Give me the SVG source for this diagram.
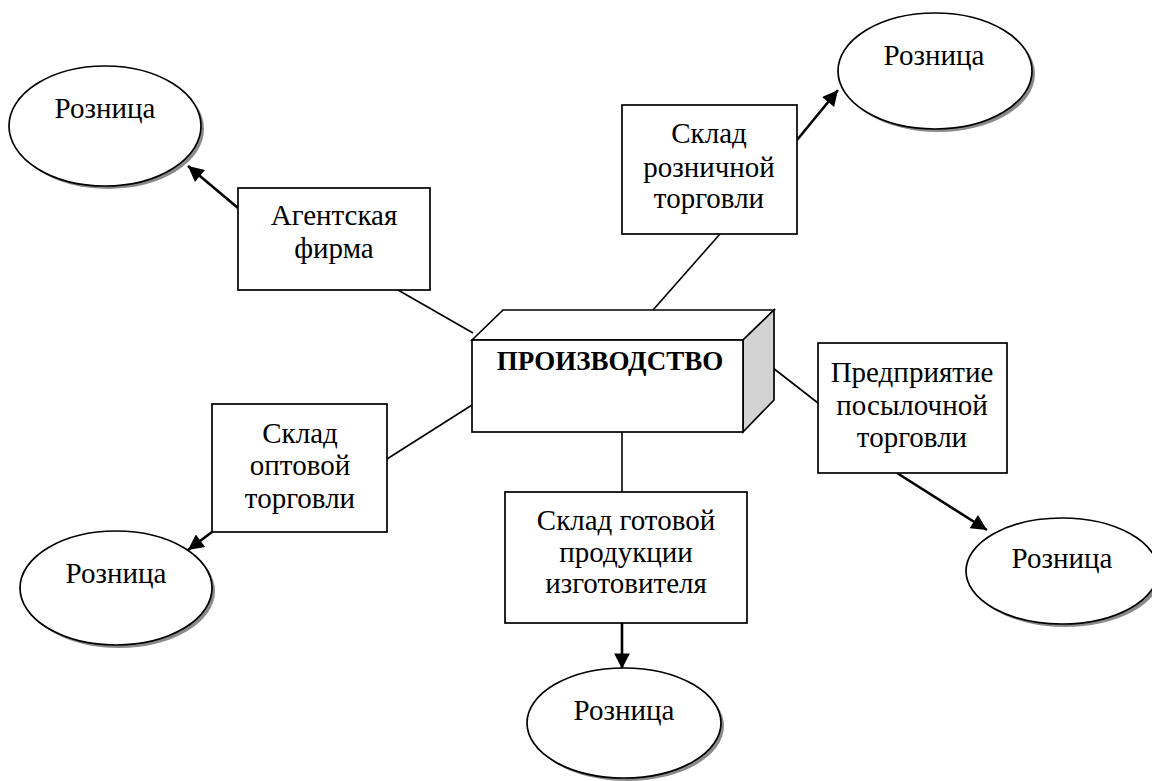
<svg xmlns="http://www.w3.org/2000/svg" width="1152" height="781" viewBox="0 0 1152 781">
<defs>
<marker id="ah" viewBox="0 0 10 10" refX="10" refY="5" markerWidth="7" markerHeight="6" markerUnits="strokeWidth" orient="auto">
<path d="M0,0 L10,5 L0,10 z" fill="#000"/>
</marker>
<style>
.t{font-family:"Liberation Serif","Times New Roman",serif;font-size:29px;fill:#000;text-anchor:middle}
.b{font-weight:bold;font-size:27px}
.box{fill:#fff;stroke:#000;stroke-width:1.7}
.sh{fill:#8a8a8a;stroke:none}
.el{fill:#fff;stroke:#000;stroke-width:1.7}
.ln{stroke:#000;stroke-width:1.6;fill:none}
.ar{stroke:#000;stroke-width:2.6;fill:none;marker-end:url(#ah)}
</style>
</defs>
<rect width="1152" height="781" fill="#fff"/>
<g id="connectors">
<line class="ln" x1="398" y1="290" x2="473" y2="333"/>
<line class="ln" x1="720" y1="234" x2="653" y2="310"/>
<line class="ln" x1="773" y1="368" x2="818" y2="403"/>
<line class="ln" x1="387" y1="459" x2="472" y2="405"/>
<line class="ln" x1="622" y1="432" x2="622" y2="492"/>
<line class="ar" x1="238" y1="208" x2="188" y2="166"/>
<line class="ar" x1="797" y1="140" x2="838" y2="90"/>
<line class="ar" x1="897" y1="473" x2="987" y2="530"/>
<line class="ar" x1="212" y1="532" x2="188" y2="550"/>
<line class="ar" x1="622" y1="623" x2="622" y2="669"/>
</g>
<g id="production">
<polygon class="box" points="472,340 503,310 774,310 743,340"/>
<polygon points="743,340 774,310 774,400 743,432" fill="#d3d3d3" stroke="#000" stroke-width="1.7"/>
<rect class="box" x="472" y="340" width="271" height="92"/>
<text class="t b" x="610" y="370">ПРОИЗВОДСТВО</text>
</g>
<g id="agent">
<rect class="box" x="238" y="188" width="192" height="102"/>
<text class="t" x="334" y="225">Агентская</text>
<text class="t" x="334" y="258">фирма</text>
</g>
<g id="retail-warehouse">
<rect class="box" x="622" y="105" width="175" height="129"/>
<text class="t" x="709" y="143">Склад</text>
<text class="t" x="709" y="177">розничной</text>
<text class="t" x="709" y="208">торговли</text>
</g>
<g id="mail-order">
<rect class="box" x="818" y="343" width="189" height="130"/>
<text class="t" x="912" y="382">Предприятие</text>
<text class="t" x="912" y="415">посылочной</text>
<text class="t" x="912" y="447">торговли</text>
</g>
<g id="wholesale-warehouse">
<rect class="box" x="212" y="404" width="175" height="128"/>
<text class="t" x="300" y="443">Склад</text>
<text class="t" x="300" y="475">оптовой</text>
<text class="t" x="300" y="508">торговли</text>
</g>
<g id="finished-goods">
<rect class="box" x="505" y="492" width="242" height="131"/>
<text class="t" x="626" y="530">Склад готовой</text>
<text class="t" x="626" y="562">продукции</text>
<text class="t" x="626" y="593">изготовителя</text>
</g>
<g id="retail-1">
<ellipse class="sh" cx="108" cy="129" rx="96" ry="60"/>
<ellipse class="el" cx="105" cy="126" rx="96" ry="60"/>
<text class="t" x="105" y="118">Розница</text>
</g>
<g id="retail-2">
<ellipse class="sh" cx="938" cy="74" rx="97" ry="58"/>
<ellipse class="el" cx="935" cy="71" rx="97" ry="58"/>
<text class="t" x="934" y="65">Розница</text>
</g>
<g id="retail-3">
<ellipse class="sh" cx="1065" cy="574" rx="96" ry="53"/>
<ellipse class="el" cx="1062" cy="571" rx="96" ry="53"/>
<text class="t" x="1062" y="568">Розница</text>
</g>
<g id="retail-4">
<ellipse class="sh" cx="119" cy="591" rx="96" ry="57"/>
<ellipse class="el" cx="116" cy="588" rx="96" ry="57"/>
<text class="t" x="116" y="583">Розница</text>
</g>
<g id="retail-5">
<ellipse class="sh" cx="627" cy="726" rx="97" ry="55"/>
<ellipse class="el" cx="624" cy="723" rx="97" ry="55"/>
<text class="t" x="624" y="720">Розница</text>
</g>
</svg>
